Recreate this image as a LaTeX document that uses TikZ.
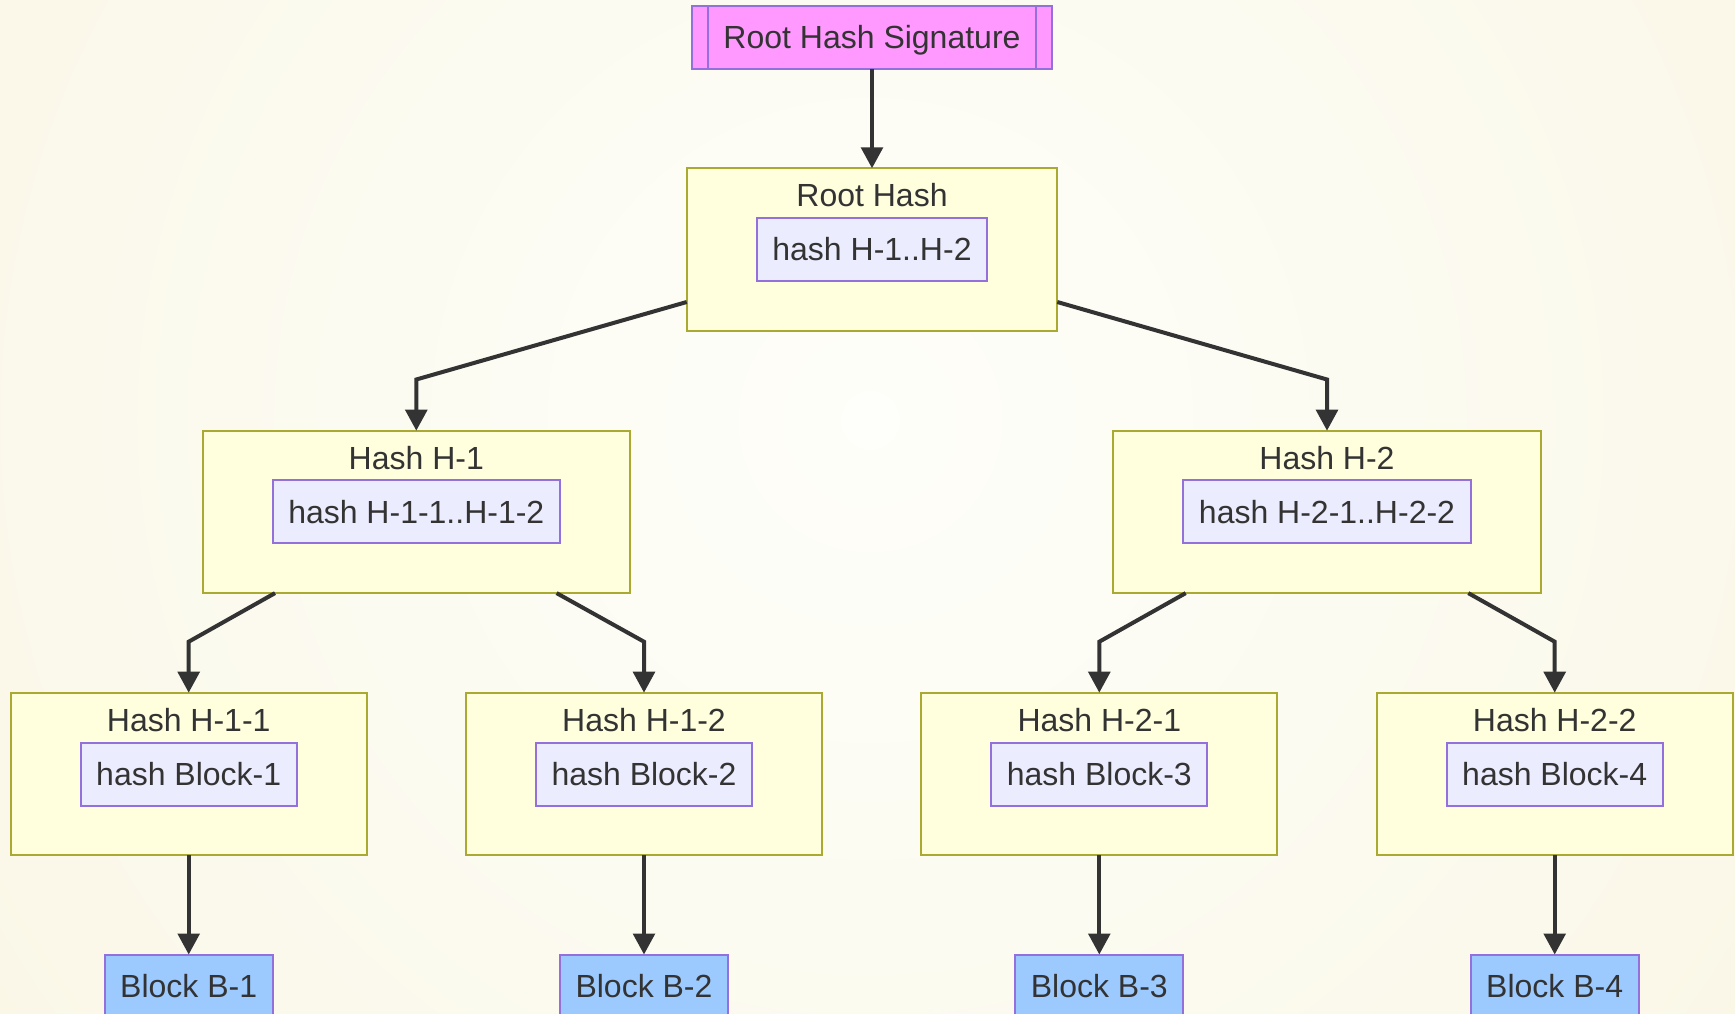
\documentclass[tikz,border=0pt]{standalone}
\usepackage{fontspec}
\setmainfont{Liberation Sans}
\usetikzlibrary{arrows.meta}

\definecolor{txt}{HTML}{333333}
\definecolor{hashfill}{HTML}{FFFFDE}
\definecolor{hashline}{HTML}{AAAA33}
\definecolor{innerfill}{HTML}{ECECFF}
\definecolor{purpleline}{HTML}{9370DB}
\definecolor{sigfill}{HTML}{FF99FF}
\definecolor{blockfill}{HTML}{9CCAFF}
\definecolor{bgA}{HTML}{FEFEFA}
\definecolor{bgB}{HTML}{FCFBF1}
\definecolor{bgC}{HTML}{F8F2DA}
\definecolor{bgD}{HTML}{F3EACE}

\pgfdeclareradialshading{bgshade}{\pgfpoint{0bp}{0bp}}{%
  color(0bp)=(bgA); color(12bp)=(bgB); color(40bp)=(bgC); color(50bp)=(bgD)}

\tikzset{
  base/.style={inner sep=0pt, outer sep=0pt, line width=1pt, text=txt,
    font=\fontsize{16}{19}\selectfont, align=center},
  hashbox/.style={base, draw=hashline, fill=hashfill, minimum height=81.2pt},
  innerbox/.style={base, draw=purpleline, fill=innerfill, minimum height=31.5pt,
    text height=11.6pt, text depth=0pt},
  sigbox/.style={base, draw=purpleline, fill=sigfill, minimum width=180.15pt,
    minimum height=31.65pt, text height=11.6pt, text depth=0pt},
  blockbox/.style={base, draw=purpleline, fill=blockfill, minimum width=83.85pt,
    minimum height=31.5pt, text height=11.6pt, text depth=0pt},
  title/.style={base, anchor=base},
  link/.style={draw=txt, line width=2pt,
    -{Triangle[length=10.5pt,width=10.8pt]}},
}

\begin{document}
\begin{tikzpicture}[x=0.5pt,y=-0.5pt]
  \useasboundingbox (0,0) rectangle (1735,1013);
  \clip (0,0) rectangle (1735,1013);
  \shade[shading=bgshade] (-230,-680) rectangle (1970,1520);

  % signature
  \node[sigbox, anchor=north] (sig) at (872,5.7) {Root Hash Signature};
  \draw[purpleline, line width=1pt]
    ([xshift=8.3pt]sig.north west) -- ([xshift=8.3pt]sig.south west)
    ([xshift=-8.3pt]sig.north east) -- ([xshift=-8.3pt]sig.south east);

  % root hash
  \node[hashbox, anchor=north, minimum width=185.3pt] (root) at (872,168.3) {};
  \node[title] (roott) at ([yshift=-19pt]root.north) {Root Hash};
  \node[innerbox, anchor=north, minimum width=115pt] (rooti)
    at ([yshift=-24.7pt]root.north) {hash H-1..H-2};

  % second level
  \node[hashbox, anchor=north, minimum width=213.65pt] (h1) at (416.3,430.7) {};
  \node[title] (h1t) at ([yshift=-19.3pt]h1.north) {Hash H-1};
  \node[innerbox, anchor=north, minimum width=143.65pt] (h1i)
    at ([yshift=-24.7pt]h1.north) {hash H-1-1..H-1-2};

  \node[hashbox, anchor=north, minimum width=213.65pt] (h2) at (1327,430.7) {};
  \node[title] (h2t) at ([yshift=-19.3pt]h2.north) {Hash H-2};
  \node[innerbox, anchor=north, minimum width=143.65pt] (h2i)
    at ([yshift=-24.7pt]h2.north) {hash H-2-1..H-2-2};

  % third level, each with its data block below
  \foreach \n/\cx/\lab/\blk in {h11/188.7/H-1-1/1, h12/644/H-1-2/2,
                                 h21/1099.3/H-2-1/3, h22/1554.7/H-2-2/4}{
    \node[hashbox, anchor=north, minimum width=178pt] (\n) at (\cx,692.7) {};
    \node[title] (\n t) at ([yshift=-19.3pt]\n.north) {Hash \lab};
    \node[innerbox, anchor=north, minimum width=108pt] (\n i)
      at ([yshift=-24.9pt]\n.north) {hash Block-\blk};
    \node[blockbox, anchor=north] (b\blk) at (\cx,954.5) {Block B-\blk};
    \draw[link] (\n.south) -- (b\blk.north);
  }

  % bends of the connectors
  \coordinate (k1) at (416.3,379.5);
  \coordinate (k2) at (1327,379.5);
  \coordinate (k11) at (188.7,641.7);
  \coordinate (k12) at (644,641.7);
  \coordinate (k21) at (1099.3,641.7);
  \coordinate (k22) at (1554.7,641.7);

  \draw[link] (sig.south) -- (root.north);
  \draw[link] ([yshift=14.35pt]root.south west) -- (k1) -- (h1.north);
  \draw[link] ([yshift=14.35pt]root.south east) -- (k2) -- (h2.north);
  \draw[link] ([xshift=-70.65pt]h1.south) -- (k11) -- (h11.north);
  \draw[link] ([xshift=70.15pt]h1.south) -- (k12) -- (h12.north);
  \draw[link] ([xshift=-70.65pt]h2.south) -- (k21) -- (h21.north);
  \draw[link] ([xshift=70.65pt]h2.south) -- (k22) -- (h22.north);
\end{tikzpicture}
\end{document}
